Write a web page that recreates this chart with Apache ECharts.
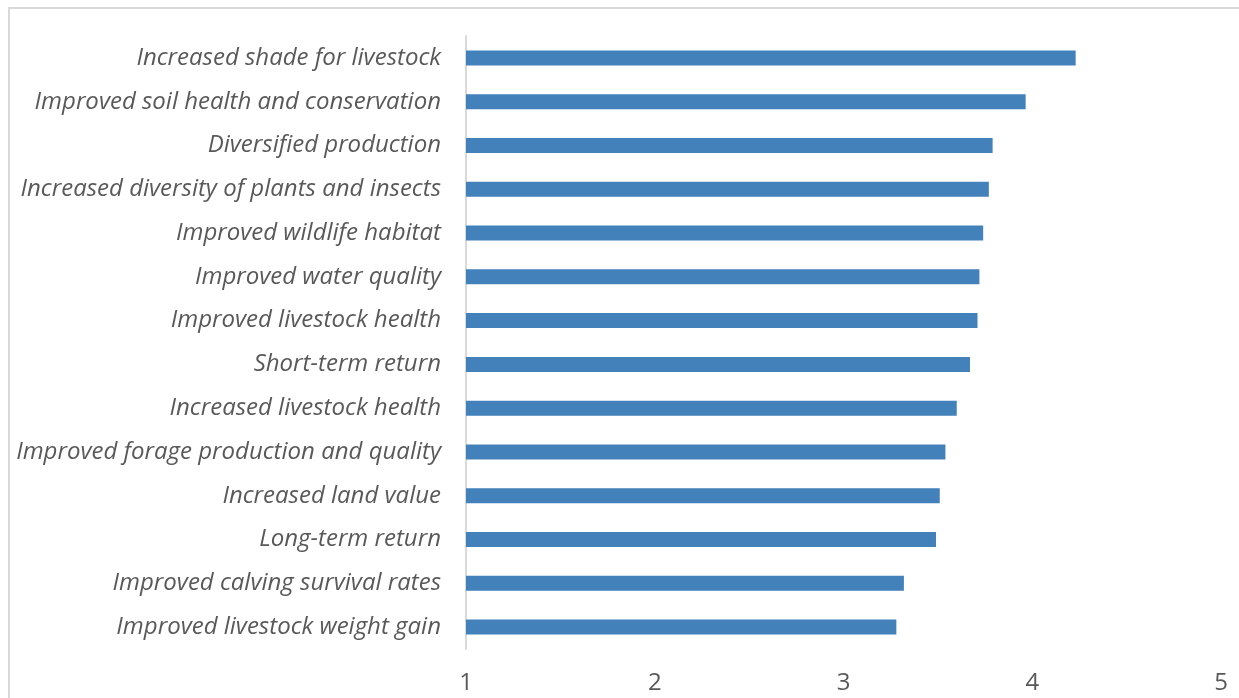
<!DOCTYPE html>
<html>
<head>
<meta charset="utf-8">
<script src="https://cdn.jsdelivr.net/npm/echarts@6/dist/echarts.min.js"></script>
<style>
html,body{margin:0;padding:0;background:#fff;}
#chart{width:1239px;height:698px;}
</style>
</head>
<body>
<div id="chart"></div>
<script>
// Categories listed bottom to top (as drawn by category axis)
var categories = [
  "Improved livestock weight gain",
  "Improved calving survival rates",
  "Long-term return",
  "Increased land value",
  "Improved forage production and quality",
  "Increased livestock health",
  "Short-term return",
  "Improved livestock health",
  "Improved water quality",
  "Improved wildlife habitat",
  "Increased diversity of plants and insects",
  "Diversified production",
  "Improved soil health and conservation",
  "Increased shade for livestock"
];
var values = [3.28, 3.32, 3.49, 3.51, 3.54, 3.60, 3.67, 3.71, 3.72, 3.74, 3.77, 3.79, 3.965, 4.23];
var xMin = 1, xMax = 5, xInterval = 1;

var chart = echarts.init(document.getElementById('chart'));
chart.setOption({
  animation: false,
  backgroundColor: '#ffffff',
  graphic: [{
    type: 'rect',
    shape: {x: 9, y: 8, width: 1240, height: 700},
    style: {fill: 'none', stroke: '#d9d9d9', lineWidth: 2},
    silent: true
  }],
  grid: {left: 466, right: 18, top: 36, bottom: 49, containLabel: false},
  xAxis: {
    type: 'value',
    min: xMin, max: xMax, interval: xInterval,
    axisLine: {show: false},
    axisTick: {show: false},
    splitLine: {show: false},
    axisLabel: {
      color: '#595959', fontFamily: 'Open Sans', fontSize: 24, margin: 22
    }
  },
  yAxis: {
    type: 'category',
    data: categories,
    axisLine: {show: true, lineStyle: {color: '#d9d9d9', width: 2}},
    axisTick: {show: false},
    axisLabel: {
      color: '#595959', fontFamily: 'Open Sans', fontStyle: 'italic', fontSize: 24, margin: 25, padding: [3, 0, 0, 0]
    }
  },
  series: [{
    type: 'bar',
    data: values,
    barWidth: 15,
    itemStyle: {color: '#4381bb'},
    silent: true
  }]
});
</script>
</body>
</html>
